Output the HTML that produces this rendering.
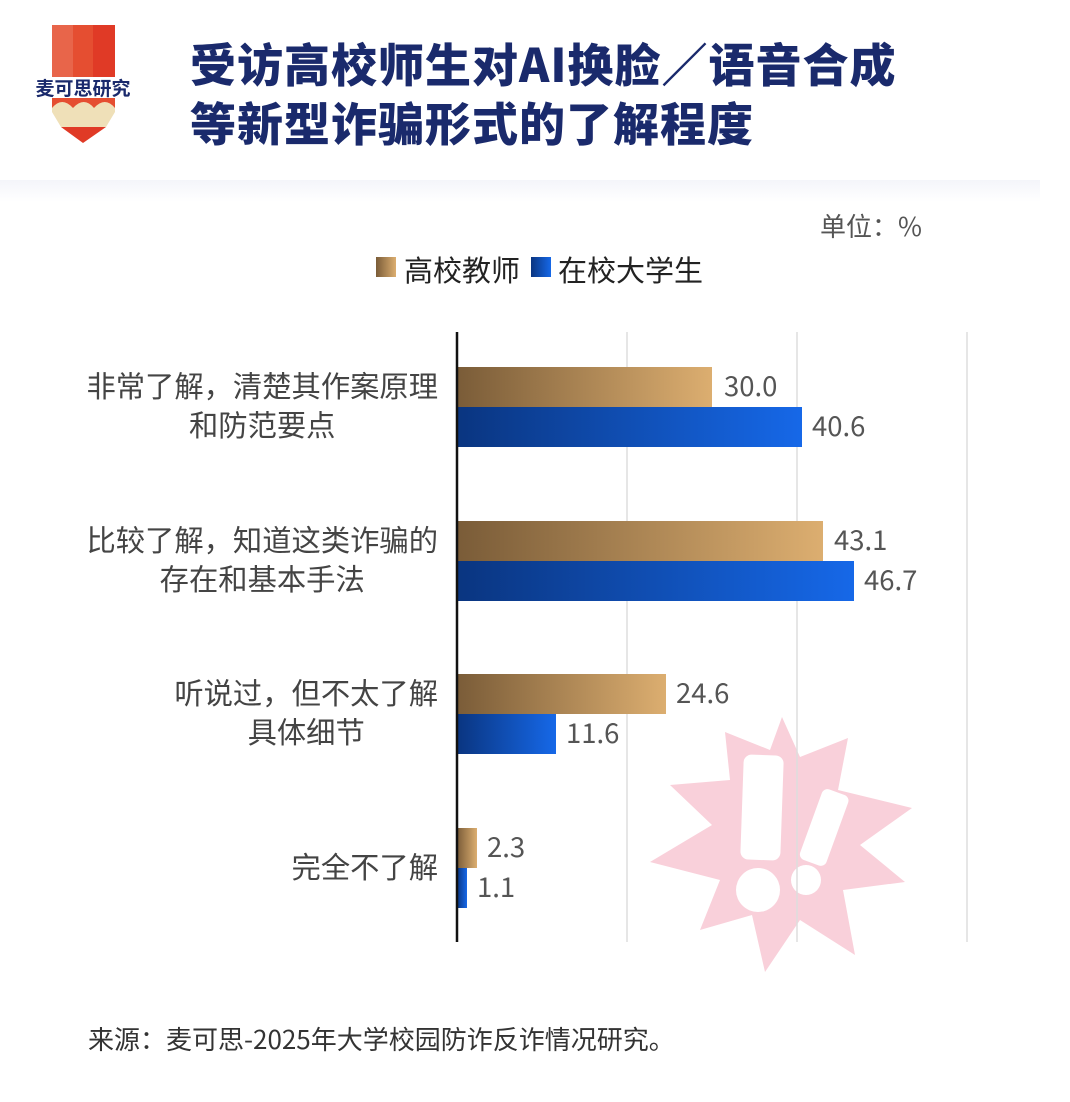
<!DOCTYPE html>
<html><head><meta charset="utf-8"><style>
body{margin:0;width:1070px;height:1102px;background:#fff;position:relative;font-family:"Noto Sans CJK SC","Liberation Sans",sans-serif;overflow:hidden}
.t{position:absolute;white-space:nowrap}
</style></head><body>
<div style="position:absolute;left:0;top:180px;width:1040px;height:22px;background:linear-gradient(#f4f5fa,#fff)"></div>
<svg style="position:absolute;left:0;top:0" width="1070" height="1102">
 <rect x="52" y="25" width="22" height="52" fill="#e8654a"/>
 <rect x="73" y="25" width="21" height="52" fill="#e54e31"/>
 <rect x="93" y="25" width="22" height="52" fill="#e03a26"/>
 <rect x="52" y="98" width="63" height="10" fill="#e54e31"/>
 <path d="M52,108 Q62,96 73,108 Q84,96 94,108 Q105,96 115,108 L115,112 L106,127 L61,127 L52,112Z" fill="#efe0b8"/>
 <path d="M61,127 L106,127 L83,143Z" fill="#e03a26"/>
 <text x="83" y="95" font-size="19" font-weight="bold" fill="#1a2a6c" text-anchor="middle" font-family="Noto Sans CJK SC,sans-serif">麦可思研究</text>
 <defs>
  <linearGradient id="g1" x1="0" x2="1"><stop offset="0" stop-color="#7a5c38"/><stop offset="1" stop-color="#dcae70"/></linearGradient>
  <linearGradient id="g2" x1="0" x2="1"><stop offset="0" stop-color="#0a3580"/><stop offset="1" stop-color="#1668e8"/></linearGradient>
 </defs>
 <polygon points="782,717 800,757 848,738 838,790 912,808 860,845 905,882 843,890 855,955 800,920 765,972 752,915 700,930 720,880 650,862 712,825 670,785 730,780 725,732 770,750" fill="#f9d0da"/>
 <rect x="742" y="755" width="40" height="105" rx="8" fill="#fff" transform="rotate(2 762 808)"/>
 <circle cx="758" cy="890" r="22" fill="#fff"/>
 <rect x="810" y="790" width="28" height="75" rx="6" fill="#fff" transform="rotate(20 824 828)"/>
 <circle cx="806" cy="880" r="15" fill="#fff"/>
 <line x1="627" y1="332" x2="627" y2="942" stroke="#ddd" stroke-width="1.5"/>
 <line x1="797" y1="332" x2="797" y2="942" stroke="#ddd" stroke-width="1.5"/>
 <line x1="967" y1="332" x2="967" y2="942" stroke="#ddd" stroke-width="1.5"/>
 <rect x="457" y="367" width="255" height="40" fill="url(#g1)"/>
 <rect x="457" y="407" width="345" height="40" fill="url(#g2)"/>
 <rect x="457" y="521" width="366" height="40" fill="url(#g1)"/>
 <rect x="457" y="561" width="397" height="40" fill="url(#g2)"/>
 <rect x="457" y="674" width="209" height="40" fill="url(#g1)"/>
 <rect x="457" y="714" width="99" height="40" fill="url(#g2)"/>
 <rect x="457" y="828" width="20" height="40" fill="url(#g1)"/>
 <rect x="457" y="868" width="10" height="40" fill="url(#g2)"/>
 <line x1="457" y1="332" x2="457" y2="942" stroke="#111" stroke-width="2.5"/>
 <g font-size="27.5" fill="#555" font-family="Noto Sans CJK SC,sans-serif">
  <text x="724" y="396">30.0</text><text x="812" y="436">40.6</text>
  <text x="834" y="550">43.1</text><text x="864" y="590">46.7</text>
  <text x="676" y="703">24.6</text><text x="566" y="743">11.6</text>
  <text x="487" y="857">2.3</text><text x="477" y="897">1.1</text>
 </g>
 <rect x="376" y="257" width="20" height="20" fill="url(#g1)"/>
 <rect x="531" y="257" width="20" height="20" fill="url(#g2)"/>
</svg>
<div class="t" style="left:190px;top:34px;font-size:46px;font-weight:900;color:#1a2a6c;line-height:59px;letter-spacing:1px">受访高校师生对AI换脸／语音合成<br>等新型诈骗形式的了解程度</div>
<div class="t" style="left:820px;top:207px;font-size:26px;color:#555">单位：%</div>
<div class="t" style="left:404px;top:248px;font-size:29px;color:#222">高校教师</div>
<div class="t" style="left:558px;top:248px;font-size:29px;color:#222">在校大学生</div>
<div class="t" style="right:632px;top:366px;font-size:29.3px;color:#444;text-align:center;line-height:39px">非常了解，清楚其作案原理<br>和防范要点</div>
<div class="t" style="right:632px;top:520px;font-size:29.3px;color:#444;text-align:center;line-height:39px">比较了解，知道这类诈骗的<br>存在和基本手法</div>
<div class="t" style="right:632px;top:673px;font-size:29.3px;color:#444;text-align:center;line-height:39px">听说过，但不太了解<br>具体细节</div>
<div class="t" style="right:632px;top:845px;font-size:29.3px;color:#444">完全不了解</div>
<div class="t" style="left:88px;top:1020px;font-size:26px;color:#333">来源：麦可思-2025年大学校园防诈反诈情况研究。</div>
</body></html>
